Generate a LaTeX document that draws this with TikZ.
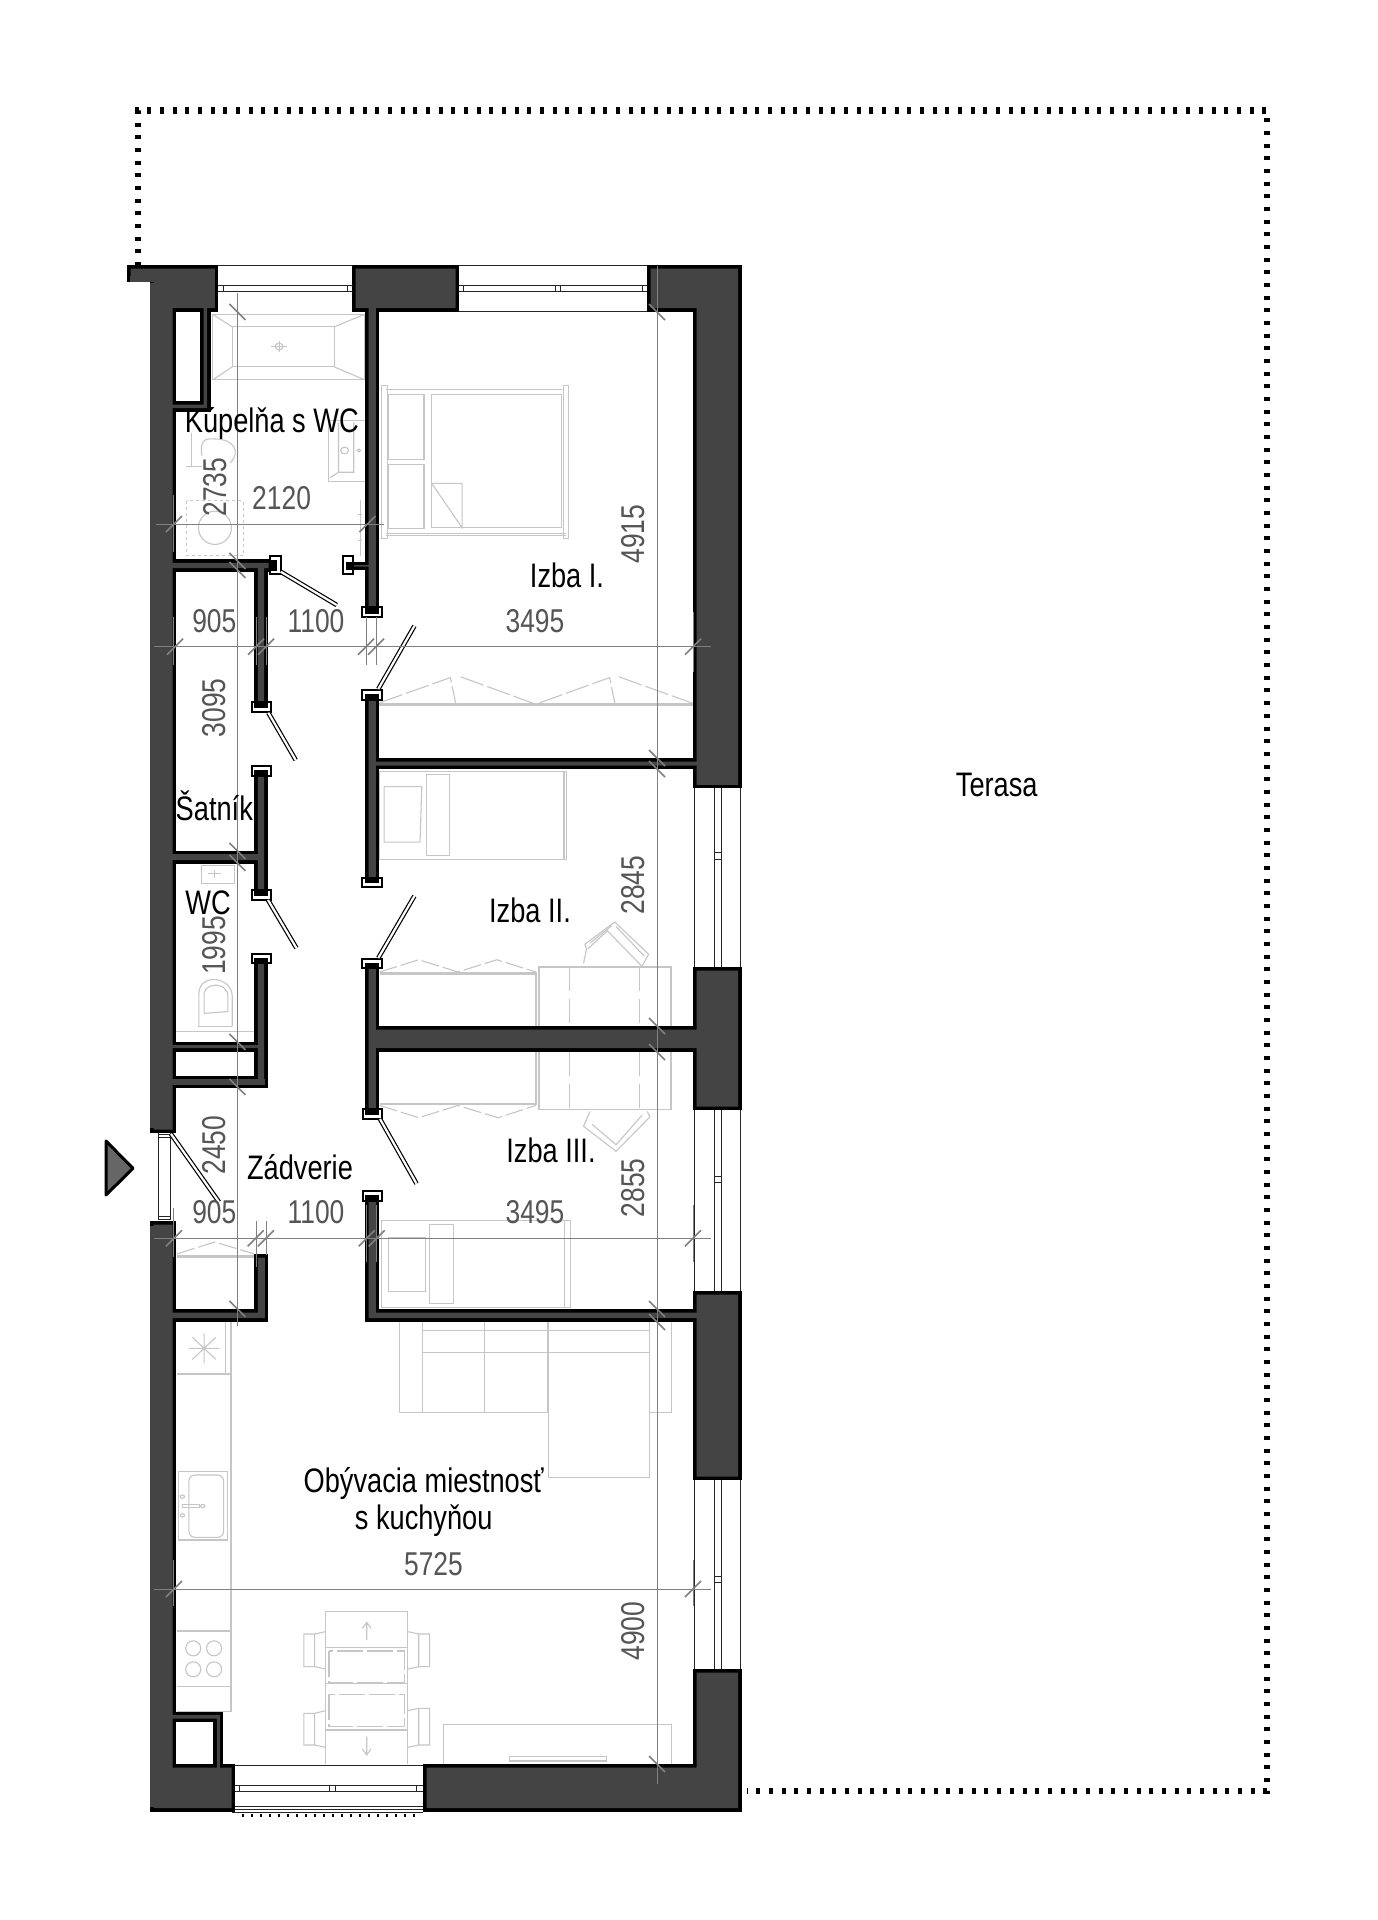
\documentclass[tikz,border=0pt]{standalone}
\usepackage{fontspec}
\setmainfont[FakeStretch=0.8]{Liberation Sans}
\definecolor{wallc}{HTML}{444444}
\definecolor{furn}{HTML}{C6C6C6}
\definecolor{dimc}{HTML}{808080}
\definecolor{numc}{HTML}{555555}
\definecolor{markc}{HTML}{666666}
\tikzset{
  furnline/.style={draw=furn,line width=1.1pt},
  furnthick/.style={draw=furn,line width=2.6pt},
  dimline/.style={draw=dimc,line width=1pt},
  tickline/.style={draw=dimc,line width=1.6pt},
  jambbox/.style={draw=black,line width=1.8pt,fill=white},
  leafline/.style={draw=black,line width=1.2pt,double=white,double distance=2.2pt},
  winline/.style={draw=black!85,line width=1pt},
  roomlabel/.style={font=\fontsize{34}{34}\selectfont,text=black,inner sep=0pt},
  numlabel/.style={font=\fontsize{33}{33}\selectfont,text=numc,inner sep=0pt},
  zoomA/.style={shift={(100,230)},x=0.43367pt,y=-0.36990pt},
  zoomB/.style={shift={(100,760)},x=0.43367pt,y=-0.36990pt},
  zoomC/.style={shift={(100,1300)},x=0.43367pt,y=-0.33333pt},
}
\def\W#1#2#3#4{(#1+3.5,#2+3.5) rectangle (#3-3.5,#4-3.5)}
\def\allwalls{
  \W{150}{265}{176}{1133}
  \W{150}{265}{218.3}{311.7}
  \W{127}{265}{160}{282}
  \W{200}{300}{210.7}{411.7}
  \W{160}{401}{210.7}{411.7}
  \W{352}{265}{459}{311.7}
  \W{365}{300}{379.3}{612}
  \W{647}{265}{741.7}{311.7}
  \W{693}{300}{741.7}{788.3}
  \W{365}{758}{705}{769}
  \W{365}{695}{379.3}{882}
  \W{160}{559.3}{272}{571.7}
  \W{350}{561.7}{372}{570}
  \W{254.3}{562}{267.7}{708}
  \W{254.3}{771}{267.7}{895}
  \W{160}{850.6}{262}{863.6}
  \W{254.3}{958}{267.7}{1088.3}
  \W{160}{1041.7}{262}{1051.7}
  \W{160}{1075.7}{268.3}{1088.3}
  \W{150}{1221}{176}{1811.7}
  \W{254.3}{1254}{268.3}{1321.7}
  \W{160}{1309}{268.3}{1321.7}
  \W{160}{1711.7}{223.3}{1722}
  \W{213.3}{1711.7}{223.3}{1772}
  \W{150}{1764}{235}{1811.7}
  \W{423}{1764}{741.7}{1811.7}
  \W{693}{1669}{741.7}{1811.7}
  \W{693}{967}{741.7}{1110}
  \W{365}{1026}{705}{1051.7}
  \W{365}{963}{379.3}{1114}
  \W{365}{1196}{379.3}{1321.7}
  \W{365}{1309}{705}{1321.7}
  \W{693}{1291}{741.7}{1480}
}
\begin{document}
\begin{tikzpicture}[x=1pt,y=-1pt]
\useasboundingbox[fill=white] (0,0) rectangle (1377,1920);

% terrace
\draw[line width=6.8pt,dash pattern=on 4pt off 8.67pt] (138,266) -- (138,110.5) -- (1267,110.5) -- (1267,1791) -- (747,1791);
\draw[line width=3pt,dash pattern=on 2pt off 7pt] (241.7,1815) -- (415,1815);

% furniture, upper part
\begin{scope}[zoomA]
  \draw[furnline] (260,228) rectangle (610,405);
  \draw[furnline] (305,262) rectangle (540,370);
  \draw[furnline] (260,228) -- (305,262) (610,228) -- (540,262) (260,405) -- (305,370) (610,405) -- (540,370);
  \draw[furnline] (413,300) -- (413,330) (395,315) -- (431,315);
  \draw[furnline] (413,315) circle (9);
  \draw[furnline] (610,515) -- (527,515) -- (527,680) -- (610,680);
  \draw[furnline] (550,520) -- (550,655) -- (530,670) (550,655) -- (585,655) -- (585,520);
  \draw[furnline] (564,596) circle (9) (597,596) circle (4);
  \draw[furnline] (212,550) -- (212,640) (198,640) -- (235,640);
  \draw[furnline] (235,610) .. controls (230,570) and (240,562) .. (265,565) .. controls (310,565) and (325,600) .. (300,630);
  \draw[furnline,dashed] (200,732) rectangle (330,880);
  \draw[furnline] (265,805) ellipse (38 and 45);
  \draw[furnline] (600,730) -- (600,880) (595,770) -- (605,770) (595,840) -- (605,840);
  % double bed
  \draw[furnline] (660,432) -- (1065,432) (660,825) -- (1075,825) (660,820) -- (1075,820);
  \draw[furnline] (650,420) rectangle (662,835);
  \draw[furnline] (1068,420) rectangle (1080,835);
  \draw[furnline] (765,445) rectangle (1065,805);
  \draw[furnline] (665,445) rectangle (747,620);
  \draw[furnline] (665,635) rectangle (747,807);
  \draw[furnline] (765,685) -- (835,685) -- (835,805) -- cycle;
  % wardrobe
  \draw[furnthick] (640,1283) -- (1368,1283);
  \draw[furnline,dash pattern=on 24pt off 4pt] (645,1278) -- (808,1210) -- (820,1278) (832,1208) -- (1005,1282) -- (1175,1210) -- (1187,1278) (1197,1208) -- (1368,1280);
\end{scope}

% furniture, middle part
\begin{scope}[zoomB]
  % bed II
  \draw[furnline] (645,30) rectangle (1070,270);
  \draw[furnline] (1070,30) rectangle (1076,270);
  \draw[furnline] (752,40) rectangle (805,257);
  \draw[furnline] (655,72) -- (742,72) -- (738,222) -- (655,222) -- cycle;
  % WC
  \draw[furnline] (235,285) rectangle (310,335);
  \draw[furnline] (250,308) -- (280,308) (265,298) -- (265,318);
  \draw[furnline] (228,720) -- (228,630) .. controls (230,575) and (305,585) .. (305,640) -- (305,720);
  \draw[furnline] (240,685) -- (240,630) .. controls (245,600) and (295,600) .. (295,640) -- (295,680) -- cycle;
  \draw[furnline] (227,720) -- (305,720) (175,733) -- (357,733);
  % wardrobes
  \draw[furnthick] (645,577) -- (1005,577) -- (1005,718) (1005,790) -- (1005,930) -- (645,930) (178,1342) -- (355,1342);
  \draw[furnline,dash pattern=on 18pt off 4pt] (645,573) -- (735,540) -- (825,573) -- (915,540) -- (1005,573);
  \draw[furnline,dash pattern=on 18pt off 4pt] (645,934) -- (735,967) -- (825,934) -- (918,967) -- (1005,934);
  \draw[furnline,dash pattern=on 18pt off 4pt] (178,1335) -- (265,1303) -- (355,1335);
  % desks
  \draw[draw=furn,line width=1.6pt] (1012,718) -- (1012,560) -- (1317,560) -- (1317,718);
  \draw[draw=furn,line width=1.6pt] (1012,790) -- (1012,945) -- (1317,945) -- (1317,790);
  \draw[furnline,dash pattern=on 24pt off 8pt] (1083,560) -- (1083,718) (1245,560) -- (1245,718) (1083,790) -- (1083,945) (1245,790) -- (1245,945);
  % chairs
  \draw[furnline] (1115,550) -- (1122,510) -- (1118,498) -- (1187,438) -- (1265,525) -- (1250,558) -- (1170,462) -- (1125,510);
  \draw[furnline] (1130,495) -- (1180,448) (1190,450) -- (1255,530);
  \draw[furnline] (1130,950) -- (1115,990) -- (1190,1058) -- (1268,965) -- (1262,950);
  \draw[furnline] (1135,985) -- (1190,1040) -- (1250,960);
  % bed III
  \draw[furnline] (650,1245) -- (1085,1245) -- (1085,1480) -- (650,1480) -- cycle;
  \draw[furnline] (1072,1245) -- (1072,1480);
  \draw[furnline] (760,1255) rectangle (815,1470);
  \draw[furnline] (665,1290) -- (750,1290) -- (750,1438) -- (665,1438) -- cycle;
\end{scope}

% furniture, lower part
\begin{scope}[zoomC]
  \draw[furnline] (302,65) -- (302,1235) -- (178,1235);
  \draw[furnline] (290,65) -- (290,222) (178,222) -- (302,222);
  \draw[furnline] (205,145) -- (275,145) (240,100) -- (240,190) (213,112) -- (267,178) (213,178) -- (267,112);
  \draw[furnline] (180,515) rectangle (293,720);
  \draw[furnline,rounded corners=6pt] (205,525) rectangle (285,712);
  \draw[furnline] (190,590) circle (5) (190,646) circle (5) (237,618) circle (5);
  \draw[furnline] (190,614) rectangle (230,623);
  \draw[furnline] (178,993) -- (302,993) (178,1160) -- (302,1160);
  \draw[furnline] (215,1045) circle (7.5pt) (263,1045) circle (7.5pt) (215,1108) circle (7.5pt) (263,1108) circle (7.5pt);
  % sofa
  \draw[furnline] (690,65) -- (690,338) -- (1035,338) -- (1035,532) -- (1267,532) -- (1267,338) -- (1318,338) -- (1318,65);
  \draw[furnline] (743,65) -- (743,338) (887,65) -- (887,338) (1033,65) -- (1033,338) (1267,65) -- (1267,338);
  \draw[furnline] (743,92) -- (1267,92) (743,157) -- (1267,157);
  % table
  \draw[furnline] (520,1392) -- (520,935) -- (710,935) -- (710,1392);
  \draw[furnline] (520,1043) -- (710,1043) (520,1150) -- (710,1150) (520,1290) -- (710,1290);
  \draw[furnline,dash pattern=on 26pt off 4pt] (528,1053) rectangle (702,1148);
  \draw[furnline,dash pattern=on 26pt off 4pt] (528,1183) rectangle (702,1280);
  \draw[furnline] (615,1020) -- (615,967) (605,985) -- (615,967) -- (625,985);
  \draw[furnline] (615,1310) -- (615,1365) (605,1347) -- (615,1365) -- (625,1347);
  \draw[furnline] (520,995) -- (495,1002) -- (470,1002) -- (470,1100) -- (495,1100) -- (520,1107) (495,1002) -- (495,1100);
  \draw[furnline] (710,995) -- (735,1002) -- (760,1002) -- (760,1100) -- (735,1100) -- (710,1107) (735,1002) -- (735,1100);
  \draw[furnline] (520,1232) -- (495,1240) -- (470,1240) -- (470,1335) -- (495,1335) -- (520,1342) (495,1240) -- (495,1335);
  \draw[furnline] (710,1232) -- (735,1225) -- (760,1225) -- (760,1335) -- (735,1335) -- (710,1342) (735,1225) -- (735,1335);
  % tv stand
  \draw[furnline] (793,1392) -- (793,1273) -- (1318,1273) -- (1318,1392);
  \draw[furnline] (945,1370) rectangle (1168,1383);
\end{scope}

% walls
\draw[draw=black,line width=7pt,line join=miter] \allwalls;
\fill[wallc] \allwalls;
% outer left face carries no black edge
\fill[wallc] (150,283) rectangle (158,1128);
\fill[wallc] (150,1226) rectangle (158,1807);
\fill[wallc] (130,276) rectangle (158,282);

% windows
\draw[winline] (218,265) -- (353,265) (459,265) -- (647,265) (459,311.7) -- (647,311.7);
\draw[winline] (218,285) -- (353,285) (218,291) -- (353,291) (459,285) -- (647,285) (459,291) -- (647,291);
\draw[winline] (223.3,285) -- (223.3,291) (347,285) -- (347,291) (463,285) -- (463,291) (555,285) -- (555,291) (560,285) -- (560,291) (642,285) -- (642,291);
\foreach \a/\b in {788.3/967,1110/1291,1480/1669}{
  \draw[winline] (694,\a) -- (694,\b) (740,\a) -- (740,\b) (714.3,\a) -- (714.3,\b) (721,\a) -- (721,\b);
}
\draw[winline] (714.3,852.7) -- (721,852.7) (714.3,859.3) -- (721,859.3) (714.3,1176) -- (721,1176) (714.3,1182) -- (721,1182) (714.3,1576) -- (721,1576) (714.3,1582.7) -- (721,1582.7);
% terrace door, bottom
\draw[winline] (235,1765.7) -- (423,1765.7) (235,1785) -- (423,1785) (235,1791.7) -- (423,1791.7) (235,1806.7) -- (423,1806.7) (235,1809.3) -- (423,1809.3) (232,1812.7) -- (423,1812.7);
\draw[winline] (239.3,1785) -- (239.3,1791.7) (329.3,1785) -- (329.3,1791.7) (335,1785) -- (335,1791.7) (416.7,1785) -- (416.7,1791.7);
% entrance frame
\draw[winline] (158.3,1133) -- (158.3,1220) (170,1133) -- (170,1220);
\draw[winline,fill=white] (158.3,1134) rectangle (170,1137);
\draw[winline,fill=white] (158.3,1216) rectangle (170,1219);

% door jambs
\foreach \a/\b/\c/\d in {
  270/556/280.7/574.3, 342.7/556/353/574.3, 362.3/607.3/381.7/617.3, 362.3/690/381.7/700,
  251.7/702/270.7/712, 251.7/765.7/270.7/776, 251.7/890/270.7/900, 251.7/954/270.7/963,
  362.3/878/381.7/887, 362.3/959/381.7/968, 362.7/1109/381.7/1119, 362.7/1191/381.7/1201}{
  \draw[jambbox] (\a,\b) rectangle (\c,\d);
}
% the wall runs into each jamb
\fill[black] (270,560) rectangle (277,571);
\fill[black] (346,561.7) rectangle (353,570);
\fill[black] (365,607.3) rectangle (379.3,613.5);
\fill[black] (365,694) rectangle (379.3,700);
\fill[black] (254.3,702) rectangle (267.7,708);
\fill[black] (254.3,770) rectangle (267.7,776);
\fill[black] (254.3,890) rectangle (267.7,896);
\fill[black] (254.3,957.5) rectangle (267.7,963);
\fill[black] (365,878) rectangle (379.3,883);
\fill[black] (365,963) rectangle (379.3,968);
\fill[black] (365,1109) rectangle (379.3,1115);
\fill[black] (365,1195) rectangle (379.3,1201);

% door leaves
\draw[leafline] (280.7,571.7) -- (336.7,605);
\draw[leafline] (378.3,689) -- (414.4,626);
\draw[leafline] (268.3,712.7) -- (295.7,760);
\draw[leafline] (268,900) -- (296.4,948);
\draw[leafline] (378.3,958) -- (414.4,896);
\draw[leafline] (380,1119) -- (416.5,1183.6);
\draw[leafline] (171,1134) -- (219,1202);

% entrance marker
\draw[draw=black,line width=3pt,line join=round,fill=markc] (106,1141) -- (133,1168.3) -- (106,1195) -- cycle;

% dimension lines
\draw[dimline] (237.4,293) -- (237.4,1326);
\draw[dimline] (657,266) -- (657,1784);
\draw[dimline] (156,524) -- (384,524);
\draw[dimline] (154,646.7) -- (711,646.7);
\draw[dimline] (154,1238.3) -- (711,1238.3);
\draw[dimline] (154,1589) -- (711,1589);
\draw[dimline] (173.7,495) -- (173.7,552) (173.7,617) -- (173.7,665) (256,617) -- (256,665)
  (266,617) -- (266,665) (366,617) -- (366,665) (376,617) -- (376,665)
  (693,612) -- (693,672) (173.7,1208) -- (173.7,1257) (256,1221) -- (256,1267)
  (266,1221) -- (266,1255) (366.7,1205) -- (366.7,1262) (376.7,1205) -- (376.7,1262)
  (693,1205) -- (693,1262) (173.7,1560) -- (173.7,1606) (693,1560) -- (693,1606);
\foreach \y in {312,561,570,851,863,1042,1087,1309}
  \draw[tickline] (229.4,\y-8) -- (245.4,\y+8);
\foreach \y in {312,758,769,1026,1052,1309,1322,1764}
  \draw[tickline] (649,\y-8) -- (665,\y+8);
\foreach \x in {174,367.5} \draw[tickline] (\x-8,532) -- (\x+8,516);
\foreach \x in {175,256,266,366,376,693} \draw[tickline] (\x-8,654.7) -- (\x+8,638.7);
\foreach \x in {174,255.7,266,366.7,376.7,693} \draw[tickline] (\x-8,1246.3) -- (\x+8,1230.3);
\foreach \x in {174,693} \draw[tickline] (\x-8,1597) -- (\x+8,1581);

% room labels
\node[roomlabel] (kupelna) at (271.8,423.7) {Kúpelňa s WC};
\node[roomlabel] (izba1) at (567,575.5) {Izba I.};
\node[roomlabel] (satnik) at (214.3,805.7) {Šatník};
\node[roomlabel] (wc) at (208,902.5) {WC};
\node[roomlabel] (izba2) at (530,910) {Izba II.};
\node[roomlabel] (izba3) at (551,1150) {Izba III.};
\node[roomlabel] (zadverie) at (300,1167) {Zádverie};
\node[roomlabel] (obyv) at (423.7,1483) {Obývacia miestnosť};
\node[roomlabel] (kuch) at (423.7,1521) {s kuchyňou};
\node[roomlabel] (terasa) at (996.7,785) {Terasa};

% dimension numbers
\node[numlabel,rotate=90] (n2735) at (215.5,487.3) {2735};
\node[numlabel] (n2120) at (281.6,498.4) {2120};
\node[numlabel] (n905a) at (214.3,620.8) {905};
\node[numlabel] (n1100a) at (316,620.8) {1100};
\node[numlabel] (n3495a) at (535,620.8) {3495};
\node[numlabel,rotate=90] (n4915) at (633,534) {4915};
\node[numlabel,rotate=90] (n3095) at (214.3,707.8) {3095};
\node[numlabel,rotate=90] (n2845) at (633,885.3) {2845};
\node[numlabel,rotate=90] (n1995) at (214.3,945.3) {1995};
\node[numlabel,rotate=90] (n2450) at (214.3,1145) {2450};
\node[numlabel] (n905b) at (214.3,1212.3) {905};
\node[numlabel] (n1100b) at (316,1212.3) {1100};
\node[numlabel] (n3495b) at (535,1212.3) {3495};
\node[numlabel,rotate=90] (n2855) at (633,1187.8) {2855};
\node[numlabel] (n5725) at (433.5,1563.7) {5725};
\node[numlabel,rotate=90] (n4900) at (633,1631) {4900};
\end{tikzpicture}
\end{document}
